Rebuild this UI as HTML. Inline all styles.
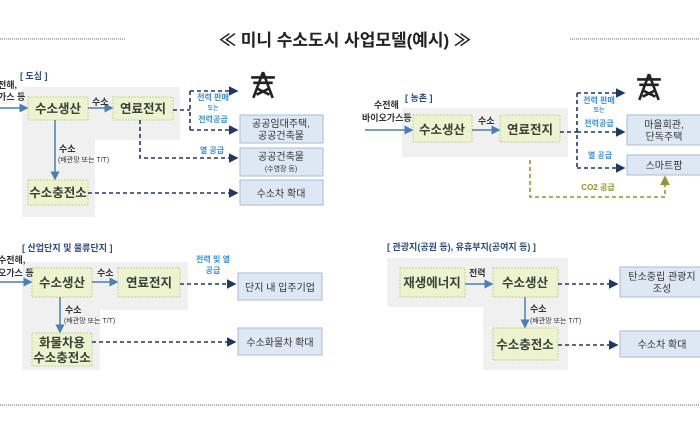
<!DOCTYPE html>
<html><head><meta charset="utf-8"><style>
html,body{margin:0;padding:0;background:#fff;}
svg{display:block;}
text{font-family:"Liberation Sans","Noto Sans CJK KR",sans-serif;}
.b{font-size:12.5px;font-weight:bold;fill:#3a4038;text-anchor:middle;}
.r{font-size:10px;fill:#333;text-anchor:middle;}
.s{font-size:9px;fill:#333;}
.xs{font-size:7px;fill:#333;}
.bl{font-size:8px;fill:#3c8fd8;text-anchor:middle;font-weight:bold;}
.lb{font-size:9px;fill:#2a4a80;font-weight:bold;}
</style></head><body>
<svg width="700" height="440" viewBox="0 0 700 440">
<defs>
<marker id="a" markerWidth="6" markerHeight="6" refX="5" refY="3" orient="auto"><path d="M0,0 L6,3 L0,6z" fill="#1f3864"/></marker>
<marker id="c" markerWidth="6" markerHeight="6" refX="5" refY="3" orient="auto"><path d="M0,0 L6,3 L0,6z" fill="#4a7fb0"/></marker>
<marker id="g" markerWidth="6" markerHeight="6" refX="5" refY="3" orient="auto"><path d="M0,0 L6,3 L0,6z" fill="#8a9a30"/></marker>
<symbol id="tw" viewBox="0 0 26 26"><g stroke="#222" stroke-width="2.4" fill="none"><path d="M13 1 L4 25 M13 1 L22 25 M2 6 H24 M4 11 H22 M7 16 L19 22 M19 16 L7 22"/></g></symbol>
</defs>
<line x1="0" y1="39" x2="125" y2="39" stroke="#666" stroke-dasharray="1,1"/>
<line x1="570" y1="39" x2="700" y2="39" stroke="#666" stroke-dasharray="1,1"/>
<text x="345" y="46" style="font-size:17px;font-weight:bold;fill:#222;text-anchor:middle">≪ 미니  수소도시  사업모델(예시)  ≫</text>
<line x1="0" y1="405" x2="700" y2="405" stroke="#666" stroke-dasharray="1,1"/>

<g fill="#f0f0f0">
<path d="M22 87 H180 V140 H95 V217 H22Z"/>
<rect x="402" y="108" width="166" height="49"/>
<path d="M22 262 H188 V310 H100 V370 H22Z"/>
<path d="M387 258 H568 V370 H483 V307 H387Z"/>
</g>
<g fill="#eef3cf" stroke="#c8d690" stroke-dasharray="2,1">
<rect x="28" y="97" width="60" height="23"/><rect x="113" y="97" width="60" height="23"/><rect x="28" y="180" width="60" height="25"/>
<rect x="413" y="115" width="59" height="27"/><rect x="500" y="115" width="60" height="27"/>
<rect x="32" y="268" width="60" height="29"/><rect x="118" y="268" width="62" height="29"/><rect x="32" y="333" width="60" height="33"/>
<rect x="400" y="268" width="65" height="29"/><rect x="493" y="268" width="65" height="29"/><rect x="493" y="328" width="65" height="32"/>
</g>
<g fill="#dde8f4" stroke="#aabdd6">
<rect x="240" y="115" width="83" height="28"/><rect x="240" y="148" width="83" height="28"/><rect x="240" y="180" width="83" height="25"/>
<rect x="627" y="115" width="75" height="30"/><rect x="627" y="155" width="75" height="20"/>
<rect x="238" y="273" width="84" height="27"/><rect x="238" y="328" width="84" height="27"/>
<rect x="620" y="267" width="82" height="30"/><rect x="620" y="331" width="82" height="26"/>
</g>
<use href="#tw" x="249" y="71" width="28" height="28"/>
<use href="#tw" x="635" y="73" width="28" height="28"/>

<g stroke="#4a7fb0" stroke-width="1.5" marker-end="url(#c)" fill="none">
<line x1="0" y1="108" x2="27" y2="108"/><line x1="88" y1="108" x2="112" y2="108"/><line x1="55" y1="120" x2="55" y2="179"/>
<line x1="365" y1="130" x2="412" y2="130"/><line x1="472" y1="130" x2="499" y2="130"/>
<line x1="0" y1="282" x2="31" y2="282"/><line x1="92" y1="282" x2="117" y2="282"/><line x1="60" y1="297" x2="60" y2="332"/>
<line x1="465" y1="284" x2="492" y2="284"/><line x1="525" y1="297" x2="525" y2="327"/>
</g>
<g stroke="#1f3864" stroke-width="1.6" stroke-dasharray="4,3" fill="none">
<line x1="173" y1="110" x2="190" y2="110"/><line x1="190" y1="91" x2="190" y2="130"/>
<line x1="190" y1="91" x2="237" y2="91" marker-end="url(#a)"/><line x1="190" y1="130" x2="237" y2="130" marker-end="url(#a)"/>
<path d="M140 120 V158 H237" marker-end="url(#a)"/><line x1="88" y1="193" x2="237" y2="193" marker-end="url(#a)"/>
<line x1="560" y1="132" x2="577" y2="132"/><line x1="577" y1="93" x2="577" y2="168"/>
<line x1="577" y1="93" x2="624" y2="93" marker-end="url(#a)"/><line x1="577" y1="132" x2="624" y2="132" marker-end="url(#a)"/><line x1="577" y1="168" x2="624" y2="168" marker-end="url(#a)"/>
<line x1="180" y1="284" x2="235" y2="284" marker-end="url(#a)"/><line x1="92" y1="342" x2="235" y2="342" marker-end="url(#a)"/>
<line x1="558" y1="284" x2="617" y2="284" marker-end="url(#a)"/><line x1="558" y1="345" x2="617" y2="345" marker-end="url(#a)"/>
</g>
<path d="M530 160 V197 H665 V177" stroke="#8a9a30" stroke-width="1.6" stroke-dasharray="4,3" fill="none" marker-end="url(#g)"/>

<text class="lb" x="20" y="79">[ 도심 ]</text>
<text class="s" x="-2" y="88" font-weight="bold">전해,</text><text class="s" x="-2" y="100" font-weight="bold">가스 등</text>
<text class="b" x="58" y="113">수소생산</text><text class="b" x="143" y="113">연료전지</text><text class="b" x="58" y="197">수소충전소</text>
<text class="s" x="92" y="105" font-weight="bold">수소</text>
<text class="s" x="59" y="152" font-weight="bold">수소</text><text class="xs" x="58" y="162">(배관망 또는 T/T)</text>
<text class="bl" x="213" y="100">전력 판매</text><text class="bl" x="213" y="110" style="font-size:6px">또는</text><text class="bl" x="213" y="122">전력공급</text>
<text class="bl" x="212" y="153">열 공급</text>
<text class="r" x="281" y="127">공공임대주택,</text><text class="r" x="281" y="139">공공건축물</text>
<text class="r" x="281" y="160">공공건축물</text><text class="r" x="281" y="171" style="font-size:7px">(수영장 등)</text>
<text class="r" x="281" y="197">수소차 확대</text>

<text class="lb" x="405" y="101">[ 농촌 ]</text>
<text class="s" x="374" y="108" font-weight="bold">수전해</text><text class="s" x="362" y="121" font-weight="bold">바이오가스등</text>
<text class="b" x="442" y="134">수소생산</text><text class="b" x="530" y="134">연료전지</text>
<text class="s" x="478" y="124" font-weight="bold">수소</text>
<text class="bl" x="599" y="103">전력 판매</text><text class="bl" x="599" y="112" style="font-size:6px">또는</text><text class="bl" x="599" y="126">전력공급</text>
<text class="bl" x="600" y="158">열 공급</text>
<text x="598" y="190" style="font-size:8px;font-weight:bold;fill:#8a9a30;text-anchor:middle">CO2 공급</text>
<text class="r" x="664" y="128">마을회관,</text><text class="r" x="664" y="140">단독주택</text>
<text class="r" x="664" y="169">스마트팜</text>

<text class="lb" x="22" y="251">[ 산업단지 및 물류단지 ]</text>
<text class="s" x="-2" y="263" font-weight="bold">수전해,</text><text class="s" x="-2" y="276" font-weight="bold">오가스 등</text>
<text class="b" x="62" y="287">수소생산</text><text class="b" x="149" y="287">연료전지</text>
<text class="b" x="62" y="347">화물차용</text><text class="b" x="62" y="362">수소충전소</text>
<text class="s" x="97" y="276" font-weight="bold">수소</text>
<text class="s" x="65" y="313" font-weight="bold">수소</text><text class="xs" x="64" y="323">(배관망 또는 T/T)</text>
<text class="bl" x="213" y="262">전력 및 열</text><text class="bl" x="213" y="273">공급</text>
<text class="r" x="280" y="291">단지 내 입주기업</text><text class="r" x="280" y="346">수소화물차 확대</text>

<text class="lb" x="387" y="250">[ 관광지(공원 등), 유휴부지(공여지 등) ]</text>
<text class="b" x="432" y="287">재생에너지</text><text class="b" x="525" y="287">수소생산</text><text class="b" x="525" y="349">수소충전소</text>
<text class="s" x="469" y="276" font-weight="bold">전력</text>
<text class="s" x="530" y="312" font-weight="bold">수소</text><text class="xs" x="530" y="323">(배관망 또는 T/T)</text>
<text class="r" x="662" y="280">탄소중립 관광지</text><text class="r" x="662" y="292">조성</text>
<text class="r" x="662" y="348">수소차 확대</text>
</svg>
</body></html>
